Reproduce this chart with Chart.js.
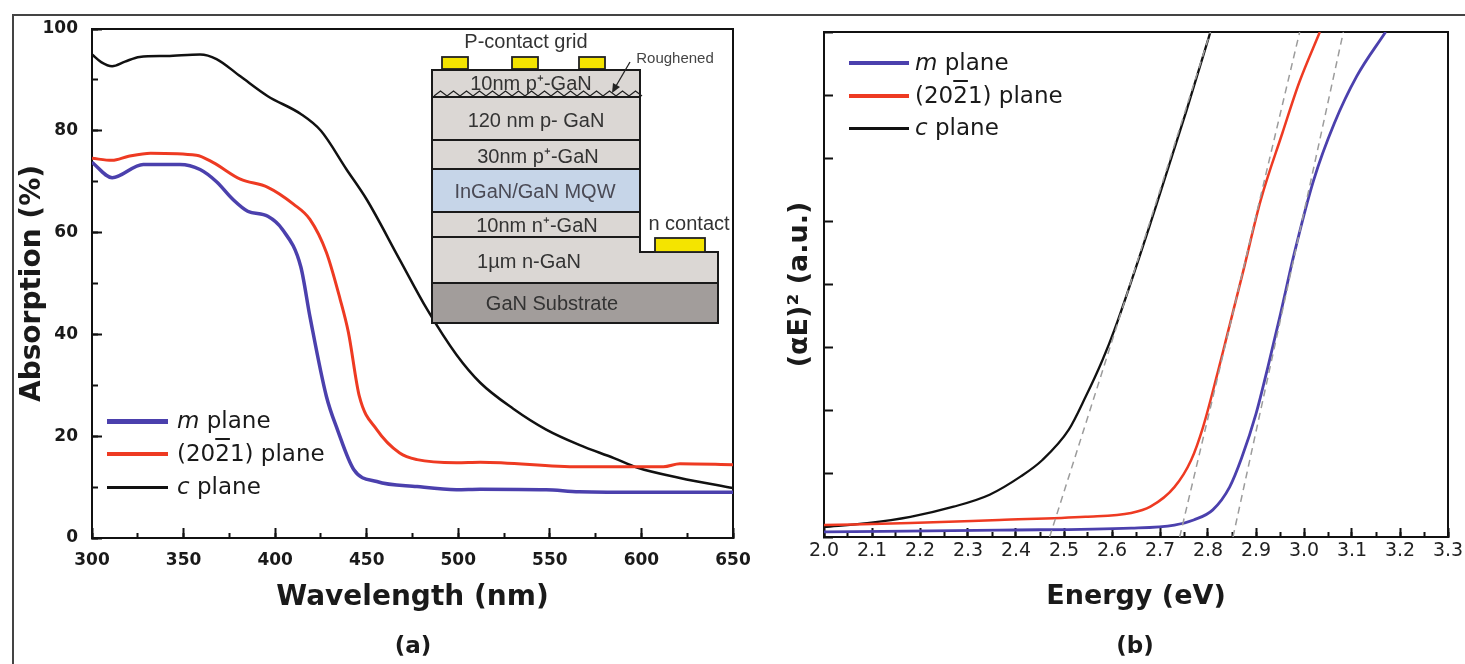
<!DOCTYPE html>
<html>
<head>
<meta charset="utf-8">
<script src="https://cdn.jsdelivr.net/npm/chart.js@4.4.1/dist/chart.umd.min.js"></script>
<style>
html,body{margin:0;padding:0;background:#fff;}
body{width:1465px;height:664px;position:relative;overflow:hidden;font-family:"DejaVu Sans",sans-serif;color:#1a1a1a;}
#wrapA{position:absolute;left:0;top:0;width:770px;height:664px;}
#wrapB{position:absolute;left:770px;top:0;width:695px;height:664px;}
.frameTop{position:absolute;left:13px;top:14px;width:1452px;height:2px;background:#444;}
.frameLeft{position:absolute;left:12px;top:14px;width:2px;height:650px;background:#444;}
.leg{position:absolute;font-family:"DejaVu Sans",sans-serif;font-size:23px;line-height:33px;height:33px;white-space:nowrap;color:#1a1a1a;}
.legline{position:absolute;}
.ol{text-decoration:overline;}
.panel{position:absolute;font-family:"DejaVu Sans",sans-serif;font-weight:bold;font-size:23px;line-height:30px;text-align:center;width:80px;color:#1a1a1a;}
svg{position:absolute;left:0;top:0;}
</style>
</head>
<body>
<div id="wrapA"><canvas id="chartA" width="770" height="664"></canvas></div>
<div id="wrapB"><canvas id="chartB" width="695" height="664"></canvas></div>
<div class="frameTop"></div>
<div class="frameLeft"></div>

<!-- inset device schematic -->
<svg width="760" height="340" viewBox="0 0 760 340">
  <g font-family="Liberation Sans, Arial, sans-serif" font-size="20" fill="#333" text-anchor="middle" dominant-baseline="central" style="white-space:pre">
    <text x="526" y="41">P-contact grid</text>
  </g>
  <rect x="442" y="57" width="26" height="12" fill="#f4e400" stroke="#222" stroke-width="1.8"/>
  <rect x="512" y="57" width="26" height="12" fill="#f4e400" stroke="#222" stroke-width="1.8"/>
  <rect x="579" y="57" width="26" height="12" fill="#f4e400" stroke="#222" stroke-width="1.8"/>
  <rect x="432" y="70" width="208" height="27" fill="#dbd7d4" stroke="#1a1a1a" stroke-width="2"/>
  <path d="M434,96 l6.5,-5 l6.5,5 l6.5,-5 l6.5,5 l6.5,-5 l6.5,5 l6.5,-5 l6.5,5 l6.5,-5 l6.5,5 l6.5,-5 l6.5,5 l6.5,-5 l6.5,5 l6.5,-5 l6.5,5 l6.5,-5 l6.5,5 l6.5,-5 l6.5,5 l6.5,-5 l6.5,5 l6.5,-5 l6.5,5 l6.5,-5 l6.5,5 l6.5,-5 l6.5,5 l6.5,-5 l6.5,5 l6.5,-5 l6.5,5" fill="none" stroke="#222" stroke-width="1.3"/>
  <rect x="432" y="97" width="208" height="43" fill="#dbd7d4" stroke="#1a1a1a" stroke-width="2"/>
  <rect x="432" y="140" width="208" height="29" fill="#dbd7d4" stroke="#1a1a1a" stroke-width="2"/>
  <rect x="432" y="169" width="208" height="43" fill="#c6d5e8" stroke="#1a1a1a" stroke-width="2"/>
  <rect x="432" y="212" width="208" height="25" fill="#dbd7d4" stroke="#1a1a1a" stroke-width="2"/>
  <polygon points="432,237 640,237 640,252 718,252 718,283 432,283" fill="#dbd7d4" stroke="#1a1a1a" stroke-width="2"/>
  <rect x="432" y="283" width="286" height="40" fill="#a29d9b" stroke="#1a1a1a" stroke-width="2"/>
  <rect x="655" y="238" width="50" height="14" fill="#f4e400" stroke="#222" stroke-width="1.8"/>
  <line x1="630" y1="62" x2="616" y2="86" stroke="#222" stroke-width="1.3"/>
  <polygon points="612,93 613,83 620,87" fill="#222"/>
  <g font-family="Liberation Sans, Arial, sans-serif" font-size="20" fill="#333" text-anchor="middle" dominant-baseline="central" style="white-space:pre">
    <text x="531" y="83">10nm  p⁺-GaN</text>
    <text x="536" y="120">120 nm p- GaN</text>
    <text x="538" y="156">30nm  p⁺-GaN</text>
    <text x="535" y="191" fill="#4a4a55">InGaN/GaN MQW</text>
    <text x="537" y="225">10nm  n⁺-GaN</text>
    <text x="529" y="261">1µm  n-GaN</text>
    <text x="552" y="303">GaN Substrate</text>
    <text x="689" y="223">n contact</text>
  </g>
  <text x="675" y="57" font-family="Liberation Sans, Arial, sans-serif" font-size="15" fill="#444" text-anchor="middle" dominant-baseline="central">Roughened</text>
</svg>

<!-- legends -->
<div class="legline" style="left:107px;top:419px;width:61px;height:5px;background:#4b40ad;"></div>
<div class="legline" style="left:107px;top:452px;width:61px;height:3.5px;background:#ee3a22;"></div>
<div class="legline" style="left:107px;top:486px;width:61px;height:2.5px;background:#111;"></div>
<div class="leg" style="left:177px;top:404px;"><i>m</i> plane</div>
<div class="leg" style="left:177px;top:437px;">(20<span class="ol">2</span>1) plane</div>
<div class="leg" style="left:177px;top:470px;"><i>c</i> plane</div>

<div class="legline" style="left:849px;top:61px;width:60px;height:4px;background:#4b40ad;"></div>
<div class="legline" style="left:849px;top:94px;width:60px;height:3.5px;background:#ee3a22;"></div>
<div class="legline" style="left:849px;top:127px;width:60px;height:2.5px;background:#111;"></div>
<div class="leg" style="left:915px;top:46px;"><i>m</i> plane</div>
<div class="leg" style="left:915px;top:79px;">(20<span class="ol">2</span>1) plane</div>
<div class="leg" style="left:915px;top:111px;"><i>c</i> plane</div>

<div class="panel" style="left:373px;top:630px;">(a)</div>
<div class="panel" style="left:1095px;top:630px;">(b)</div>

<script>
// ---------- Panel (a): absorption vs wavelength ----------
const mPlaneWl  = [300, 311, 328, 348, 359, 368, 377, 385, 396, 404, 414, 419, 428, 434, 443, 455.5, 477.5, 499, 512, 548, 566, 603, 650];
const mPlaneAbs = [73.8, 70.8, 73.4, 73.4, 72.4, 70.0, 66.5, 64.2, 63.2, 60.6, 53.3, 43.5, 27.8, 21.3, 13.4, 11.1, 10.1, 9.5, 9.6, 9.5, 9.1, 9.0, 9.0];

const semiWl  = [300, 311, 320, 332, 357, 366, 381, 396, 410, 419, 428, 435.5, 440, 446, 455.5, 468, 477.5, 499, 512, 566, 594, 612, 621, 650];
const semiAbs = [74.6, 74.2, 75.0, 75.6, 75.2, 73.8, 70.5, 68.9, 65.6, 62.6, 56.1, 46.9, 40.4, 27.8, 21.3, 16.7, 15.4, 14.8, 14.9, 14.0, 14.0, 14.0, 14.6, 14.4];

const cPlaneWl  = [300, 305, 311, 318, 326, 341, 359, 368, 381, 396, 414, 425, 439, 450, 468, 483, 499, 512, 530, 548, 566, 585, 598, 621, 650];
const cPlaneAbs = [95.0, 93.5, 92.7, 93.6, 94.5, 94.7, 95.0, 94.1, 90.7, 86.8, 83.3, 80.0, 72.4, 66.5, 54.7, 44.9, 36.0, 30.5, 25.4, 21.3, 18.3, 15.7, 13.8, 11.8, 9.8];

const wlTicks  = {min: 300, max: 650, major: 50, minor: 25};
const absTicks = {min: 0, max: 100, major: 20, minor: 10};

// ---------- Panel (b): (alpha E)^2 vs energy ----------
const mPlaneE  = [2.0, 2.365, 2.64, 2.73, 2.77, 2.81, 2.845, 2.87, 2.9, 2.925, 2.95, 2.98, 3.02, 3.063, 3.11, 3.17];
const mPlaneAE = [0.08, 0.11, 0.14, 0.19, 0.27, 0.43, 0.79, 1.25, 1.95, 2.7, 3.5, 4.5, 5.65, 6.55, 7.3, 8.0];

const semiE  = [2.0, 2.18, 2.365, 2.545, 2.64, 2.68, 2.73, 2.765, 2.79, 2.82, 2.835, 2.873, 2.91, 2.955, 2.99, 3.033];
const semiAE = [0.19, 0.22, 0.27, 0.32, 0.38, 0.48, 0.79, 1.22, 1.75, 2.6, 3.05, 4.2, 5.34, 6.40, 7.2, 8.0];

const cPlaneE  = [2.0, 2.09, 2.18, 2.27, 2.345, 2.41, 2.455, 2.51, 2.545, 2.58, 2.605, 2.69, 2.755, 2.805];
const cPlaneAE = [0.16, 0.22, 0.32, 0.48, 0.67, 0.96, 1.22, 1.70, 2.22, 2.80, 3.28, 5.2, 6.75, 8.0];

// linear band-edge extrapolations (dashed)
const mFitE = [2.852, 3.082];  const mFitAE = [0, 8];
const semiFitE = [2.741, 2.991]; const semiFitAE = [0, 8];
const cFitE = [2.47, 2.805];   const cFitAE = [0, 8];

const eTicks  = {min: 2.0, max: 3.3, major: 0.1, minor: 0.05};
const aeTicks = {min: 0, max: 8, major: 1};

const BLUE = '#4b40ad', RED = '#ee3a22', BLACK = '#111111', FIT = '#9c9c9c';
const pts = (xs, ys) => xs.map((x, i) => ({x: x, y: ys[i]}));

Chart.defaults.font.family = 'DejaVu Sans';
Chart.defaults.color = '#1a1a1a';

function lineDs(label, xs, ys, color, width, extra) {
  return Object.assign({
    label: label, data: pts(xs, ys), borderColor: color, backgroundColor: color,
    borderWidth: width, pointRadius: 0, fill: false, cubicInterpolationMode: 'monotone'
  }, extra || {});
}

function noPad(sc) { sc.paddingLeft = 0; sc.paddingRight = 0; sc.paddingTop = 0; sc.paddingBottom = 0; }

function frameAxes(xr, yr, xMinorStep, yMinorStep, xMajorOpts, yMajorOpts) {
  const s = {};
  s.x = xMajorOpts;
  s.y = yMajorOpts;
  if (xMinorStep) {
    s.xMinor = {type: 'linear', position: 'bottom', min: xr.min, max: xr.max, weight: 0,
      afterFit: sc => { sc.height = 0; noPad(sc); },
      ticks: {display: false, stepSize: xMinorStep, autoSkip: false},
      grid: {drawOnChartArea: false, tickLength: -5, tickWidth: 2, tickColor: '#111'},
      border: {display: false}};
  }
  if (yMinorStep) {
    s.yMinor = {type: 'linear', position: 'left', min: yr.min, max: yr.max, weight: 0,
      afterFit: sc => { sc.width = 0; noPad(sc); },
      ticks: {display: false, stepSize: yMinorStep, autoSkip: false},
      grid: {drawOnChartArea: false, tickLength: -6, tickWidth: 2, tickColor: '#111'},
      border: {display: false}};
  }
  s.xTop = {type: 'linear', position: 'top', min: xr.min, max: xr.max,
    afterFit: sc => { sc.height = 0; noPad(sc); },
    ticks: {display: false}, grid: {display: false},
    border: {display: true, color: '#111', width: 2}};
  s.yRight = {type: 'linear', position: 'right', min: yr.min, max: yr.max,
    afterFit: sc => { sc.width = 0; noPad(sc); },
    ticks: {display: false}, grid: {display: false},
    border: {display: true, color: '#111', width: 2}};
  return s;
}

// ----- chart (a)
new Chart(document.getElementById('chartA'), {
  type: 'line',
  data: {datasets: [
    lineDs('m plane', mPlaneWl, mPlaneAbs, BLUE, 3.5),
    lineDs('(20-21) plane', semiWl, semiAbs, RED, 3),
    lineDs('c plane', cPlaneWl, cPlaneAbs, BLACK, 2.5)
  ]},
  options: {
    responsive: false, animation: false, devicePixelRatio: 1,
    layout: {padding: {top: 29, right: 37, left: 0, bottom: 0}},
    plugins: {legend: {display: false}, tooltip: {enabled: false}},
    scales: frameAxes(wlTicks, absTicks, wlTicks.minor, absTicks.minor,
      {type: 'linear', position: 'bottom', min: wlTicks.min, max: wlTicks.max, weight: 1,
        afterFit: sc => { sc.height = 126; noPad(sc); },
        ticks: {stepSize: wlTicks.major, autoSkip: false, maxRotation: 0, padding: 22,
          font: {size: 17, weight: 'bold'}, color: '#1a1a1a'},
        grid: {drawOnChartArea: false, tickLength: -10, tickWidth: 2, tickColor: '#111'},
        border: {display: true, color: '#111', width: 2},
        title: {display: true, text: 'Wavelength (nm)', color: '#1a1a1a',
          font: {size: 28, weight: 'bold'}, padding: {top: 0, bottom: 49}}},
      {type: 'linear', position: 'left', min: absTicks.min, max: absTicks.max, weight: 1,
        afterFit: sc => { sc.width = 92; noPad(sc); },
        ticks: {stepSize: absTicks.major, autoSkip: false, padding: 24,
          font: {size: 17, weight: 'bold'}, color: '#1a1a1a'},
        grid: {drawOnChartArea: false, tickLength: -10, tickWidth: 2, tickColor: '#111'},
        border: {display: true, color: '#111', width: 2},
        title: {display: true, text: 'Absorption (%)', color: '#1a1a1a',
          font: {size: 28, weight: 'bold'}, padding: {top: 16, bottom: 0}}})
  }
});

// ----- chart (b)
new Chart(document.getElementById('chartB'), {
  type: 'line',
  data: {datasets: [
    lineDs('m plane fit', mFitE, mFitAE, FIT, 1.5, {borderDash: [7, 5], order: -1, cubicInterpolationMode: 'default', tension: 0}),
    lineDs('(20-21) plane fit', semiFitE, semiFitAE, FIT, 1.5, {borderDash: [7, 5], order: -1, cubicInterpolationMode: 'default', tension: 0}),
    lineDs('c plane fit', cFitE, cFitAE, FIT, 1.5, {borderDash: [7, 5], order: -1, cubicInterpolationMode: 'default', tension: 0}),
    lineDs('m plane', mPlaneE, mPlaneAE, BLUE, 2.8),
    lineDs('(20-21) plane', semiE, semiAE, RED, 2.5),
    lineDs('c plane', cPlaneE, cPlaneAE, BLACK, 2.3)
  ]},
  options: {
    responsive: false, animation: false, devicePixelRatio: 1,
    layout: {padding: {top: 32, right: 17, left: 0, bottom: 0}},
    plugins: {legend: {display: false}, tooltip: {enabled: false}},
    scales: frameAxes(eTicks, aeTicks, eTicks.minor, null,
      {type: 'linear', position: 'bottom', min: eTicks.min, max: eTicks.max, weight: 1,
        afterFit: sc => { sc.height = 127; noPad(sc); },
        ticks: {stepSize: eTicks.major, autoSkip: false, maxRotation: 0, padding: 12,
          font: {size: 19}, color: '#222',
          callback: v => Number(v).toFixed(1)},
        grid: {drawOnChartArea: false, tickLength: -9, tickWidth: 2, tickColor: '#111'},
        border: {display: true, color: '#111', width: 2},
        title: {display: true, text: 'Energy (eV)', color: '#1a1a1a',
          font: {size: 27, weight: 'bold'}, padding: {top: 0, bottom: 51}}},
      {type: 'linear', position: 'left', min: aeTicks.min, max: aeTicks.max, weight: 1,
        afterFit: sc => { sc.width = 54; noPad(sc); },
        ticks: {stepSize: aeTicks.major, autoSkip: false, display: false},
        grid: {drawOnChartArea: false, tickLength: -9, tickWidth: 2, tickColor: '#111'},
        border: {display: true, color: '#111', width: 2},
        title: {display: true, text: '(αE)² (a.u.)', color: '#1a1a1a',
          font: {size: 27, weight: 'bold'}, padding: {top: 14, bottom: 0}}})
  }
});
</script>
</body>
</html>
